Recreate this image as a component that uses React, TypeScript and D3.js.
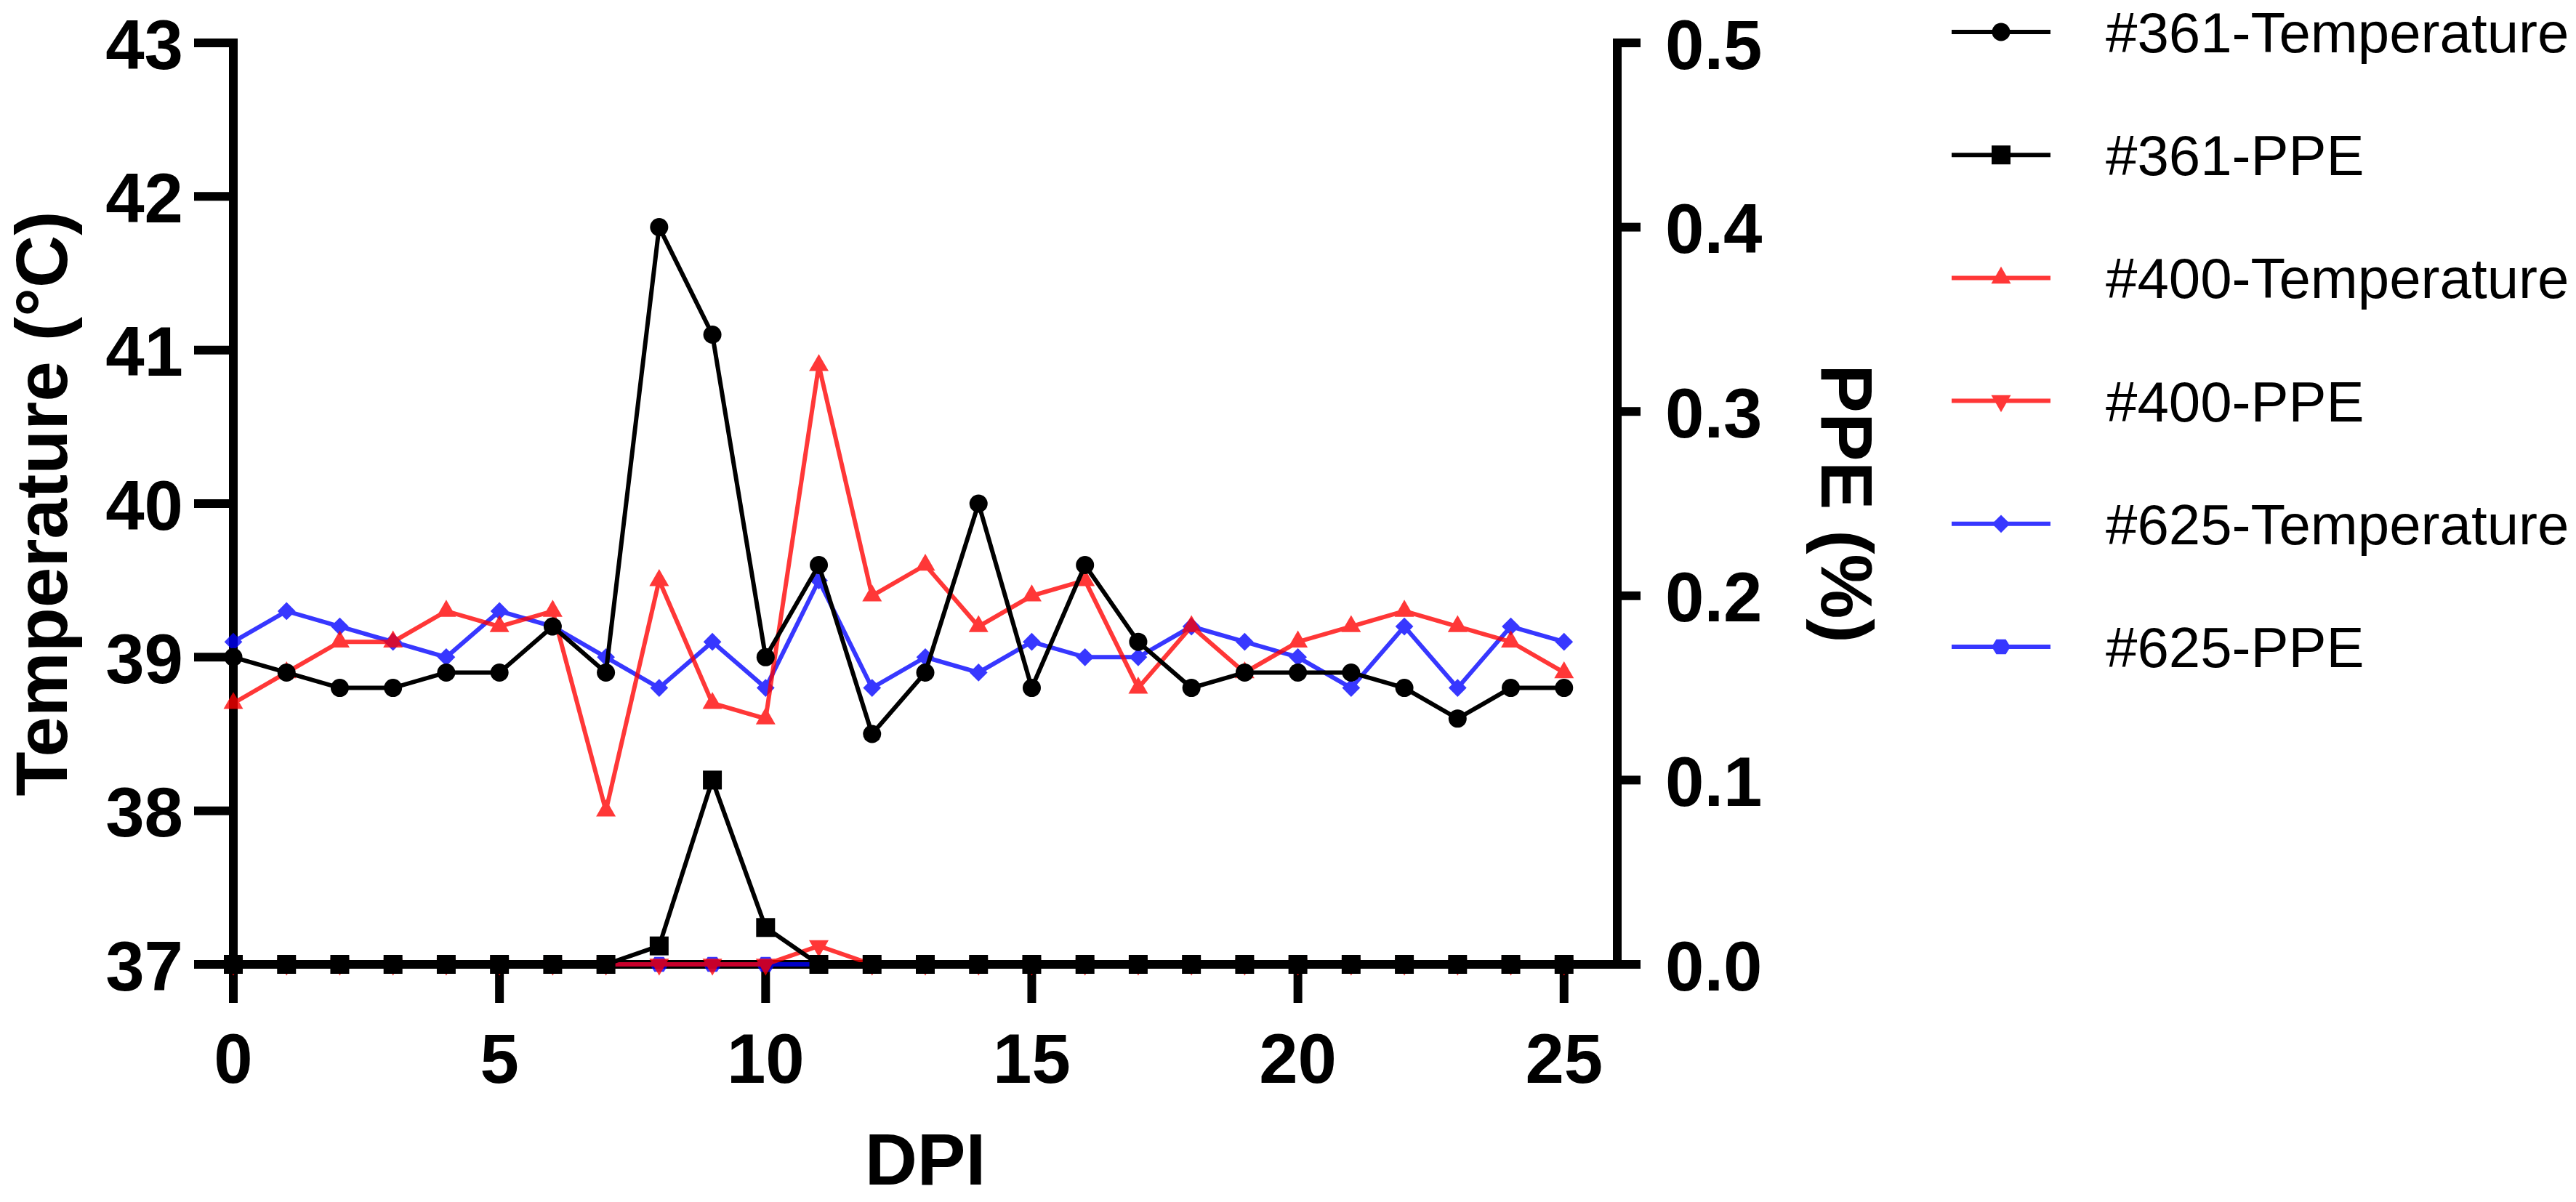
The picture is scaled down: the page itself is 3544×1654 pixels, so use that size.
import React, { useEffect, useRef } from "react";
import * as d3 from "d3";

// DPI (days post infection)
const days = [0, 1, 2, 3, 4, 5, 6, 7, 8, 9, 10, 11, 12, 13, 14, 15, 16, 17, 18, 19, 20, 21, 22, 23, 24, 25];

const temp361 = [39.0, 38.9, 38.8, 38.8, 38.9, 38.9, 39.2, 38.9, 41.8, 41.1, 39.0, 39.6, 38.5, 38.9, 40.0, 38.8, 39.6, 39.1, 38.8, 38.9, 38.9, 38.9, 38.8, 38.6, 38.8, 38.8];
const ppe361 = [0, 0, 0, 0, 0, 0, 0, 0, 0.01, 0.1, 0.02, 0, 0, 0, 0, 0, 0, 0, 0, 0, 0, 0, 0, 0, 0, 0];
const temp400 = [38.7, 38.9, 39.1, 39.1, 39.3, 39.2, 39.3, 38.0, 39.5, 38.7, 38.6, 40.9, 39.4, 39.6, 39.2, 39.4, 39.5, 38.8, 39.2, 38.9, 39.1, 39.2, 39.3, 39.2, 39.1, 38.9];
const ppe400 = [0, 0, 0, 0, 0, 0, 0, 0, 0, 0, 0, 0.01, 0, 0, 0, 0, 0, 0, 0, 0, 0, 0, 0, 0, 0, 0];
const temp625 = [39.1, 39.3, 39.2, 39.1, 39.0, 39.3, 39.2, 39.0, 38.8, 39.1, 38.8, 39.5, 38.8, 39.0, 38.9, 39.1, 39.0, 39.0, 39.2, 39.1, 39.0, 38.8, 39.2, 38.8, 39.2, 39.1];
const ppe625 = [0, 0, 0, 0, 0, 0, 0, 0, 0, 0, 0, 0, 0, 0, 0, 0, 0, 0, 0, 0, 0, 0, 0, 0, 0, 0];

const xTicks = [0, 5, 10, 15, 20, 25];
const tempTicks = [37, 38, 39, 40, 41, 42, 43];
const ppeTicks = [0, 0.1, 0.2, 0.3, 0.4, 0.5];

type Shape = "circle" | "square" | "triUp" | "triDown" | "diamond" | "hexagon";

const series: { label: string; values: number[]; axis: "temp" | "ppe"; color: string; shape: Shape }[] = [
  { label: "#361-Temperature", values: temp361, axis: "temp", color: "#000000", shape: "circle" },
  { label: "#361-PPE", values: ppe361, axis: "ppe", color: "#000000", shape: "square" },
  { label: "#400-Temperature", values: temp400, axis: "temp", color: "#ff0000", shape: "triUp" },
  { label: "#400-PPE", values: ppe400, axis: "ppe", color: "#ff0000", shape: "triDown" },
  { label: "#625-Temperature", values: temp625, axis: "temp", color: "#0000ff", shape: "diamond" },
  { label: "#625-PPE", values: ppe625, axis: "ppe", color: "#0000ff", shape: "hexagon" },
];

const FONT = "'Liberation Sans', Arial, Helvetica, sans-serif";

const symbolPath = (shape: Shape): string => {
  switch (shape) {
    case "circle":
      return d3.symbol(d3.symbolCircle, Math.PI * 12.5 * 12.5)() ?? "";
    case "square":
      return d3.symbol(d3.symbolSquare, 26 * 26)() ?? "";
    case "triUp":
    case "triDown":
      return d3.symbol(d3.symbolTriangle, (Math.sqrt(3) / 4) * 27 * 27)() ?? "";
    case "diamond":
      return d3.symbol(d3.symbolSquare, 17.5 * 17.5)() ?? "";
    case "hexagon": {
      const r = 13;
      const pts = d3.range(6).map((i) => {
        const a = (Math.PI / 3) * i;
        return [r * Math.cos(a), r * 0.9 * Math.sin(a)];
      });
      return "M" + pts.map((p) => p.join(",")).join("L") + "Z";
    }
  }
};

const symbolRotate = (shape: Shape) => (shape === "triDown" ? 180 : shape === "diamond" ? 45 : 0);

const App: React.FC = () => {
  const chartRef = useRef<SVGSVGElement | null>(null);

  useEffect(() => {
    const svg = d3.select(chartRef.current);
    svg.selectAll("*").remove();

    const x = d3.scaleLinear().domain([0, 26]).range([321, 2225]);
    const yTemp = d3.scaleLinear().domain([37, 43]).range([1327, 59]);
    const yPpe = d3.scaleLinear().domain([0, 0.5]).range([1327, 59]);

    const styleAxis = (g: d3.Selection<SVGGElement, unknown, null, undefined>) => {
      g.attr("font-family", FONT).attr("font-size", 96).attr("font-weight", "bold");
      g.select(".domain").attr("stroke-width", 12).attr("stroke-linecap", "square");
      g.selectAll(".tick line").attr("stroke-width", 12);
      g.selectAll(".tick text").attr("fill", "#000");
    };

    // left axis
    const left = svg
      .append("g")
      .attr("transform", "translate(321,0)")
      .call(
        d3
          .axisLeft(yTemp)
          .tickValues(tempTicks)
          .tickFormat(d3.format("d"))
          .tickSize(54)
          .tickSizeOuter(0)
          .tickPadding(15)
          .offset(0)
      );
    styleAxis(left);
    left.selectAll(".tick text").attr("dy", "0.37em");

    // right axis
    const right = svg
      .append("g")
      .attr("transform", "translate(2225,0)")
      .call(
        d3
          .axisRight(yPpe)
          .tickValues(ppeTicks)
          .tickFormat(d3.format(".1f"))
          .tickSize(32)
          .tickSizeOuter(0)
          .tickPadding(34)
          .offset(0)
      );
    styleAxis(right);
    right.selectAll(".tick text").attr("dy", "0.37em");

    // bottom axis
    const bottom = svg
      .append("g")
      .attr("transform", "translate(0,1327)")
      .call(
        d3
          .axisBottom(x)
          .tickValues(xTicks)
          .tickFormat(d3.format("d"))
          .tickSize(53)
          .tickSizeOuter(0)
          .offset(0)
      );
    styleAxis(bottom);
    bottom.selectAll(".tick text").attr("y", 163).attr("dy", 0);

    // axis titles
    svg
      .append("text")
      .attr("transform", `translate(92,${(59 + 1327) / 2}) rotate(-90)`)
      .attr("text-anchor", "middle")
      .attr("font-family", FONT)
      .attr("font-weight", "bold")
      .attr("font-size", 100)
      .text("Temperature (°C)");

    svg
      .append("text")
      .attr("transform", `translate(2506,${(59 + 1327) / 2}) rotate(90)`)
      .attr("text-anchor", "middle")
      .attr("font-family", FONT)
      .attr("font-weight", "bold")
      .attr("font-size", 100)
      .text("PPE (%)");

    svg
      .append("text")
      .attr("x", (x(0) + x(26)) / 2)
      .attr("y", 1630)
      .attr("text-anchor", "middle")
      .attr("font-family", FONT)
      .attr("font-weight", "bold")
      .attr("font-size", 100)
      .text("DPI");

    // data series, drawn blue first, then red, then black
    const drawOrder = [4, 5, 2, 3, 0, 1];
    drawOrder.forEach((i) => {
      const s = series[i];
      const yScale = s.axis === "temp" ? yTemp : yPpe;
      const pts = days.map((d, k) => [x(d), yScale(s.values[k])] as [number, number]);
      const g = svg.append("g").attr("opacity", s.color === "#000000" ? 1 : 0.78);
      g.append("path")
        .attr("d", d3.line()(pts))
        .attr("fill", "none")
        .attr("stroke", s.color)
        .attr("stroke-width", 6)
        .attr("stroke-linejoin", "miter");
      g.selectAll("path.pt")
        .data(pts)
        .enter()
        .append("path")
        .attr("class", "pt")
        .attr("d", symbolPath(s.shape))
        .attr("transform", (p) => `translate(${p[0]},${p[1]}) rotate(${symbolRotate(s.shape)})`)
        .attr("fill", s.color);
    });

    // legend
    const legendY = d3.scaleLinear().domain([0, 5]).range([44, 890]);
    series.forEach((s, i) => {
      const yy = legendY(i);
      const g = svg.append("g");
      const mark = g.append("g").attr("opacity", s.color === "#000000" ? 1 : 0.78);
      mark
        .append("line")
        .attr("x1", 2685)
        .attr("x2", 2821)
        .attr("y1", yy)
        .attr("y2", yy)
        .attr("stroke", s.color)
        .attr("stroke-width", 6);
      mark
        .append("path")
        .attr("d", symbolPath(s.shape))
        .attr("transform", `translate(2753,${yy}) rotate(${symbolRotate(s.shape)})`)
        .attr("fill", s.color);
      g.append("text")
        .attr("x", 2897)
        .attr("y", yy)
        .attr("dy", "0.36em")
        .attr("font-family", FONT)
        .attr("font-size", 78)
        .attr("fill", "#000")
        .text(s.label);
    });
  }, []);

  return (
    <svg
      ref={chartRef}
      width={3544}
      height={1654}
      style={{ position: "absolute", left: 0, top: 0, background: "#fff" }}
    ></svg>
  );
};

export default App;
